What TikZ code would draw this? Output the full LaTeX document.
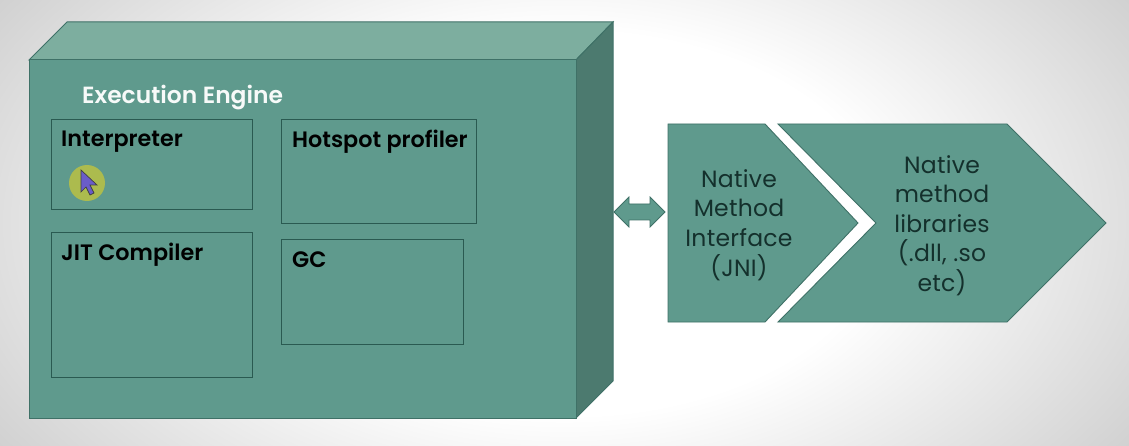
\documentclass[tikz,border=0pt]{standalone}
\usepackage{fontspec}
\setmainfont{Poppins}
\newfontfamily\labelfont{Poppins SemiBold}
\definecolor{tealface}{HTML}{5F9A8D}
\definecolor{tealtop}{HTML}{7DAE9F}
\definecolor{tealside}{HTML}{4C7A6F}
\definecolor{tealline}{HTML}{3F7167}
\definecolor{innerline}{HTML}{2A5A51}
\definecolor{textdark}{HTML}{14302C}
\definecolor{glowcolor}{HTML}{ACBB4E}
\definecolor{pointercolor}{HTML}{6A5CC8}
\pgfdeclareradialshading{slideback}{\pgfpoint{0bp}{0bp}}{color(0bp)=(white); color(12bp)=(white); color(30bp)=(black!24); color(50bp)=(black!24)}
\begin{document}
\begin{tikzpicture}[
    x=1pt, y=-1pt,
    % styles
    innerbox/.style={rectangle, draw=innerline, line width=0.9pt, anchor=north west, inner sep=0pt},
    boxlabel/.style={anchor=north west, inner sep=0pt, font=\fontsize{22.3}{24}\labelfont, text=black},
    slabel/.style={align=center, inner sep=0pt, font=\fontsize{23.5}{29.6}\selectfont\addfontfeature{LetterSpace=1}, text=textdark},
    blockshape/.style={draw=tealline, fill=tealface, line width=0.9pt},
    ]
    \useasboundingbox (0,0) rectangle (1129,446);
    % background
    \shade[shading=slideback] (-96,-177) rectangle (1224,623);

    % block
    \path[fill=tealtop, draw=tealline, line width=1pt] (29,60) -- (67,22) -- (613,22) -- (576,60) -- cycle;
    \path[fill=tealside, draw=tealline, line width=1pt] (576,60) -- (613,22) -- (613,381) -- (576,418) -- cycle;
    \path[fill=tealface, draw=tealline, line width=1pt] (29,60) rectangle (576,418);

    % boxes
    \node[innerbox, minimum width=201pt, minimum height=90pt]  (interp)  at (51,119)  {};
    \node[innerbox, minimum width=195pt, minimum height=104pt] (hotspot) at (281,119) {};
    \node[innerbox, minimum width=201pt, minimum height=145pt] (jit)     at (51,232)  {};
    \node[innerbox, minimum width=182pt, minimum height=105pt] (gc)      at (281,239) {};

    % labels
    \node[boxlabel, text=white!95!tealface, font=\fontsize{23.4}{24}\labelfont] (engine) at (82,85) {Execution Engine};
    \node[boxlabel] (interplabel)  at (61,131)  {Interpreter};
    \node[boxlabel] (hotspotlabel) at (292,130) {Hotspot profiler};
    \node[boxlabel] (jitlabel)     at (61,243)  {JIT Compiler};
    \node[boxlabel] (gclabel)      at (292,252) {GC};

    % cursor
    \node[circle, fill=glowcolor, minimum size=36pt, inner sep=0pt] (cursor) at (87,183) {};
    \draw[fill=pointercolor, draw=black!75, line width=0.7pt]
        (81,170) -- (97,185) -- (90,185) -- (94,193) -- (90,195) -- (86,187) -- (81,192) -- cycle;

    % double arrow
    \path[fill=tealface, draw=tealline, line width=0.8pt]
        (614,212) -- (629,197) -- (629,204) -- (650,204) -- (650,197) -- (665,212)
        -- (650,227) -- (650,220) -- (629,220) -- (629,227) -- cycle;

    % chevrons
    \path[blockshape] (668,124) -- (765,124) -- (858,223) -- (765,322) -- (668,322) -- cycle;
    \path[blockshape] (778,124) -- (1007,124) -- (1106,223) -- (1007,322) -- (778,322) -- (876,223) -- cycle;
    \node[slabel] (jni) at (739,225) {Native\\Method\\Interface\\(JNI)};
    \node[slabel] (libs) at (942,225.5) {Native\\method\\libraries\\(.dll, .so\\etc)};
\end{tikzpicture}
\end{document}
